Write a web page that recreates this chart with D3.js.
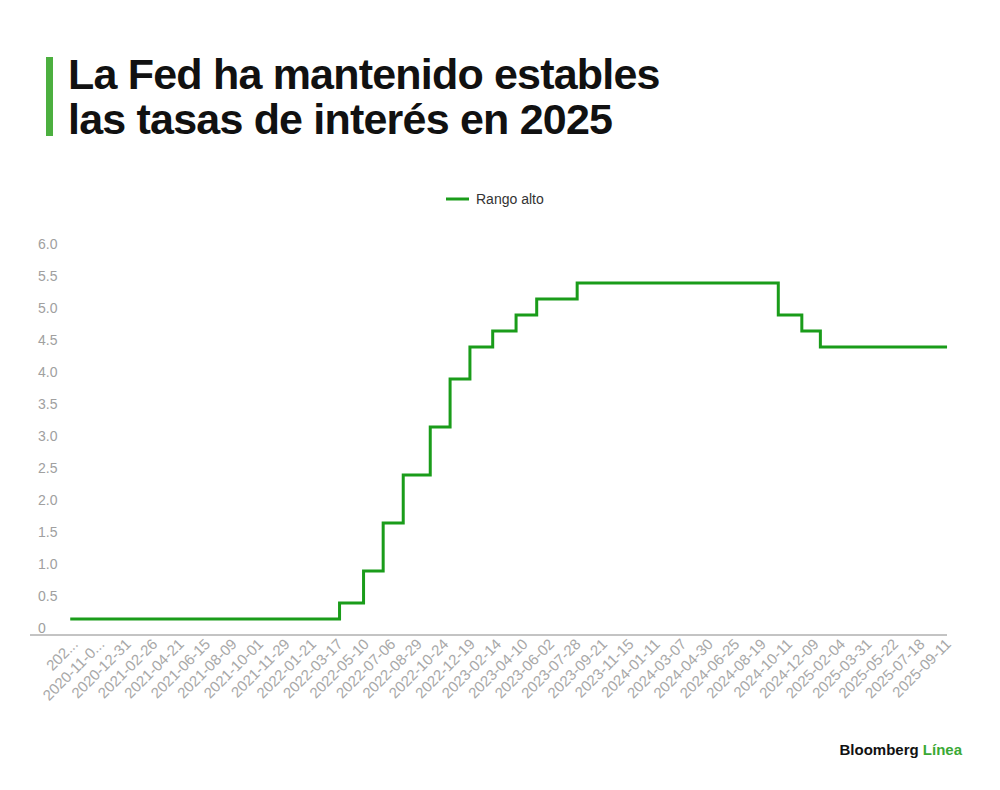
<!DOCTYPE html>
<html>
<head>
<meta charset="utf-8">
<script src="https://cdn.jsdelivr.net/npm/d3@7"></script>
<style>
  body { margin: 0; background: #fff; }
  text { font-family: "Liberation Sans", Arial, sans-serif; }
</style>
</head>
<body>
<div id="chart"></div>
<script>
// Upper bound of the Fed funds target range: [date the level starts, level]
const changeDates = ["2020-09-07", "2022-03-17", "2022-05-05", "2022-06-16", "2022-07-28", "2022-09-22",
    "2022-11-03", "2022-12-15", "2023-02-02", "2023-03-23", "2023-05-04", "2023-07-27",
    "2024-09-19", "2024-11-08", "2024-12-19", "2025-09-09"];
const rateValues = [0.25, 0.5, 1.0, 1.75, 2.5, 3.25, 4.0, 4.5, 4.75, 5.0, 5.25, 5.5, 5.0, 4.75, 4.5, 4.5];

// x tick dates and how they are printed
const tickDates = ["2020-09-16", "2020-11-05", "2020-12-31", "2021-02-26", "2021-04-21", "2021-06-15",
    "2021-08-09", "2021-10-01", "2021-11-29", "2022-01-21", "2022-03-17", "2022-05-10", "2022-07-06",
    "2022-08-29", "2022-10-24", "2022-12-19", "2023-02-14", "2023-04-10", "2023-06-02", "2023-07-28",
    "2023-09-21", "2023-11-15", "2024-01-11", "2024-03-07", "2024-04-30", "2024-06-25", "2024-08-19",
    "2024-10-11", "2024-12-09", "2025-02-04", "2025-03-31", "2025-05-22", "2025-07-18", "2025-09-11"];
const tickText = tickDates.map((d, i) => i === 0 ? "202..." : i === 1 ? "2020-11-0..." : d);
const yTicks = [0, 0.5, 1.0, 1.5, 2.0, 2.5, 3.0, 3.5, 4.0, 4.5, 5.0, 5.5, 6.0];

const width = 1000, height = 790;
const parse = d3.timeParse("%Y-%m-%d");

const svg = d3.select("#chart").append("svg")
    .attr("width", width)
    .attr("height", height);

// Title with green bar
svg.append("rect").attr("x", 46).attr("y", 57).attr("width", 7).attr("height", 79).attr("fill", "#4caf3f");
svg.append("text").attr("x", 68).attr("y", 89).text("La Fed ha mantenido estables")
    .attr("font-size", 43).attr("font-weight", "bold").attr("fill", "#111").attr("letter-spacing", -0.8);
svg.append("text").attr("x", 68).attr("y", 134).text("las tasas de interés en 2025")
    .attr("font-size", 43).attr("font-weight", "bold").attr("fill", "#111").attr("letter-spacing", -0.8);

// Legend
svg.append("line").attr("x1", 446).attr("x2", 469).attr("y1", 199).attr("y2", 199)
    .attr("stroke", "#1a9c1a").attr("stroke-width", 3);
svg.append("text").attr("x", 476).attr("y", 204).text("Rango alto")
    .attr("font-size", 14).attr("fill", "#333");

// Scales: ticks are evenly spaced, so map them piecewise
const tickX = tickDates.map((d, i) => 75 + i * (948 - 75) / (tickDates.length - 1));
const x = d3.scaleTime().domain(tickDates.map(parse)).range(tickX);
const y = d3.scaleLinear().domain([0, 6]).range([635, 251]);

// y labels
svg.append("g").selectAll("text")
    .data(yTicks).enter().append("text")
    .attr("x", 38)
    .attr("y", d => y(d) - 2)
    .text(d => d === 0 ? "0" : d.toFixed(1))
    .attr("font-size", 14).attr("fill", "#a0a0a0");

// x axis line
svg.append("line").attr("x1", 30).attr("x2", 947).attr("y1", 635).attr("y2", 635)
    .attr("stroke", "#888").attr("stroke-width", 1);

// x labels, rotated
svg.append("g").selectAll("text")
    .data(tickDates).enter().append("text")
    .attr("transform", d => "translate(" + (x(parse(d)) + 4) + ",645) rotate(-45)")
    .attr("text-anchor", "end")
    .text((d, i) => tickText[i])
    .attr("font-size", 15).attr("fill", "#a8a8a8");

// Step line
const data = changeDates.map((d, i) => ({ date: parse(d), value: rateValues[i] }));
const line = d3.line()
    .x(d => x(d.date))
    .y(d => y(d.value))
    .curve(d3.curveStepAfter);

svg.append("path")
    .datum(data)
    .attr("d", line)
    .attr("fill", "none")
    .attr("stroke", "#1a9c1a")
    .attr("stroke-width", 3);

// Logo
const logo = svg.append("text").attr("x", 962).attr("y", 755).attr("text-anchor", "end")
    .attr("font-size", 15).attr("font-weight", "bold").attr("fill", "#111");
logo.append("tspan").text("Bloomberg ");
logo.append("tspan").text("Línea").attr("fill", "#3aa935");
</script>
</body>
</html>
